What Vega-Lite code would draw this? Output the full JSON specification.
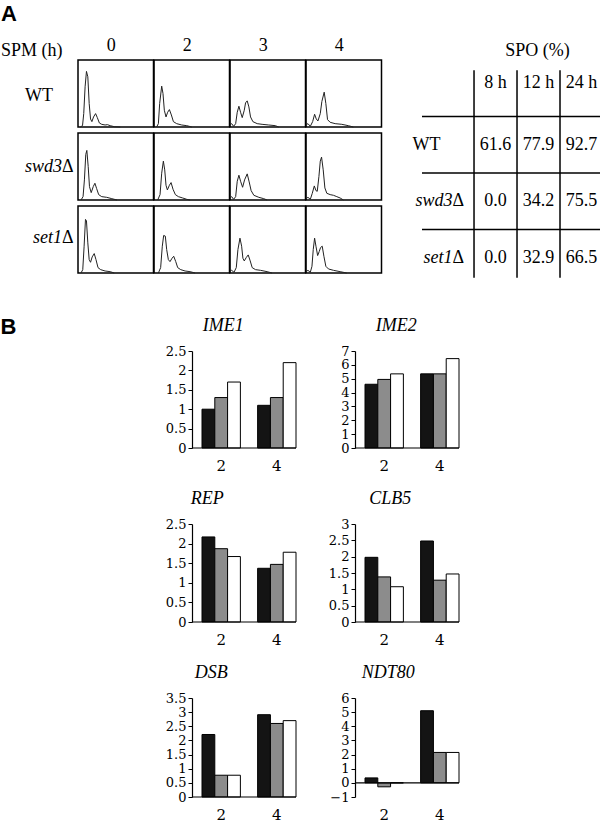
{
  "$schema": "https://vega.github.io/schema/vega-lite/v6.json",
  "background": "#ffffff",
  "padding": {"left": 0, "top": 3, "right": 0, "bottom": 0},
  "config": {
    "view": {"stroke": null},
    "font": "Liberation Serif",
    "text": {"color": "#000", "font": "Liberation Serif", "fontSize": 18},
    "title": {"color": "#000", "fontWeight": "normal", "font": "Liberation Serif", "fontSize": 18},
    "axisY": {"domainColor": "#000", "domainWidth": 1.2, "tickColor": "#000", "tickSize": 4, "labelFont": "DejaVu Serif", "labelFontSize": 13, "labelColor": "#000", "grid": false, "labelPadding": 2, "labelOverlap": false, "labelFlush": false, "minExtent": 34, "maxExtent": 34},
    "axisX": {"domain": false, "ticks": false, "labelFont": "DejaVu Serif", "labelFontSize": 15, "labelColor": "#000", "labelAngle": 0, "labelPadding": 10, "grid": false}
  },
  "datasets": {
    "rowlabels": [
      {"strain": "WT", "plain": "WT", "gene": "", "suffix": ""},
      {"strain": "swd3", "plain": "", "gene": "swd3", "suffix": "Δ"},
      {"strain": "set1", "plain": "", "gene": "set1", "suffix": "Δ"}
    ],
    "spo": [
      {"strain": "WT", "col": "8 h", "v": 61.6}, {"strain": "WT", "col": "12 h", "v": 77.9}, {"strain": "WT", "col": "24 h", "v": 92.7},
      {"strain": "swd3", "col": "8 h", "v": 0.0}, {"strain": "swd3", "col": "12 h", "v": 34.2}, {"strain": "swd3", "col": "24 h", "v": 75.5},
      {"strain": "set1", "col": "8 h", "v": 0.0}, {"strain": "set1", "col": "12 h", "v": 32.9}, {"strain": "set1", "col": "24 h", "v": 66.5}
    ],
    "bars": [
      {"gene": "IME1", "time": "2", "strain": "WT", "value": 1.0}, {"gene": "IME1", "time": "2", "strain": "swd3", "value": 1.3}, {"gene": "IME1", "time": "2", "strain": "set1", "value": 1.7},
      {"gene": "IME1", "time": "4", "strain": "WT", "value": 1.1}, {"gene": "IME1", "time": "4", "strain": "swd3", "value": 1.3}, {"gene": "IME1", "time": "4", "strain": "set1", "value": 2.2},
      {"gene": "IME2", "time": "2", "strain": "WT", "value": 4.6}, {"gene": "IME2", "time": "2", "strain": "swd3", "value": 4.95}, {"gene": "IME2", "time": "2", "strain": "set1", "value": 5.35},
      {"gene": "IME2", "time": "4", "strain": "WT", "value": 5.35}, {"gene": "IME2", "time": "4", "strain": "swd3", "value": 5.35}, {"gene": "IME2", "time": "4", "strain": "set1", "value": 6.45},
      {"gene": "REP", "time": "2", "strain": "WT", "value": 2.17}, {"gene": "REP", "time": "2", "strain": "swd3", "value": 1.87}, {"gene": "REP", "time": "2", "strain": "set1", "value": 1.67},
      {"gene": "REP", "time": "4", "strain": "WT", "value": 1.37}, {"gene": "REP", "time": "4", "strain": "swd3", "value": 1.47}, {"gene": "REP", "time": "4", "strain": "set1", "value": 1.78},
      {"gene": "CLB5", "time": "2", "strain": "WT", "value": 1.98}, {"gene": "CLB5", "time": "2", "strain": "swd3", "value": 1.38}, {"gene": "CLB5", "time": "2", "strain": "set1", "value": 1.08},
      {"gene": "CLB5", "time": "4", "strain": "WT", "value": 2.48}, {"gene": "CLB5", "time": "4", "strain": "swd3", "value": 1.28}, {"gene": "CLB5", "time": "4", "strain": "set1", "value": 1.47},
      {"gene": "DSB", "time": "2", "strain": "WT", "value": 2.21}, {"gene": "DSB", "time": "2", "strain": "swd3", "value": 0.77}, {"gene": "DSB", "time": "2", "strain": "set1", "value": 0.77},
      {"gene": "DSB", "time": "4", "strain": "WT", "value": 2.91}, {"gene": "DSB", "time": "4", "strain": "swd3", "value": 2.6}, {"gene": "DSB", "time": "4", "strain": "set1", "value": 2.7},
      {"gene": "NDT80", "time": "2", "strain": "WT", "value": 0.35}, {"gene": "NDT80", "time": "2", "strain": "swd3", "value": -0.28}, {"gene": "NDT80", "time": "2", "strain": "set1", "value": 0},
      {"gene": "NDT80", "time": "4", "strain": "WT", "value": 5.1}, {"gene": "NDT80", "time": "4", "strain": "swd3", "value": 2.15}, {"gene": "NDT80", "time": "4", "strain": "set1", "value": 2.15}
    ],
    "hist": [
      {"strain": "WT", "time": "0", "dna": 3, "n": 0}, {"strain": "WT", "time": "0", "dna": 6, "n": 2}, {"strain": "WT", "time": "0", "dna": 7.6, "n": 20}, {"strain": "WT", "time": "0", "dna": 9.4, "n": 60}, {"strain": "WT", "time": "0", "dna": 11.2, "n": 83}, {"strain": "WT", "time": "0", "dna": 13, "n": 75}, {"strain": "WT", "time": "0", "dna": 14.8, "n": 35}, {"strain": "WT", "time": "0", "dna": 16.6, "n": 12}, {"strain": "WT", "time": "0", "dna": 18.4, "n": 8}, {"strain": "WT", "time": "0", "dna": 20.6, "n": 15}, {"strain": "WT", "time": "0", "dna": 23.3, "n": 20}, {"strain": "WT", "time": "0", "dna": 25.6, "n": 14}, {"strain": "WT", "time": "0", "dna": 28.3, "n": 6}, {"strain": "WT", "time": "0", "dna": 31.4, "n": 4}, {"strain": "WT", "time": "0", "dna": 35.9, "n": 3}, {"strain": "WT", "time": "0", "dna": 39, "n": 3.5}, {"strain": "WT", "time": "0", "dna": 42.6, "n": 2}, {"strain": "WT", "time": "0", "dna": 48, "n": 0.5}, {"strain": "WT", "time": "0", "dna": 56, "n": 0},
      {"strain": "WT", "time": "2", "dna": 3.5, "n": 0}, {"strain": "WT", "time": "2", "dna": 5.8, "n": 5}, {"strain": "WT", "time": "2", "dna": 7.5, "n": 35}, {"strain": "WT", "time": "2", "dna": 10.2, "n": 61}, {"strain": "WT", "time": "2", "dna": 11.9, "n": 50}, {"strain": "WT", "time": "2", "dna": 13.7, "n": 25}, {"strain": "WT", "time": "2", "dna": 15.9, "n": 15}, {"strain": "WT", "time": "2", "dna": 18.1, "n": 22}, {"strain": "WT", "time": "2", "dna": 20.4, "n": 26}, {"strain": "WT", "time": "2", "dna": 23, "n": 18}, {"strain": "WT", "time": "2", "dna": 25.7, "n": 8}, {"strain": "WT", "time": "2", "dna": 30, "n": 5}, {"strain": "WT", "time": "2", "dna": 36.7, "n": 3}, {"strain": "WT", "time": "2", "dna": 43.4, "n": 2}, {"strain": "WT", "time": "2", "dna": 50, "n": 0},
      {"strain": "WT", "time": "3", "dna": 0, "n": 3}, {"strain": "WT", "time": "3", "dna": 2.2, "n": 5}, {"strain": "WT", "time": "3", "dna": 4.8, "n": 1}, {"strain": "WT", "time": "3", "dna": 7.5, "n": 5}, {"strain": "WT", "time": "3", "dna": 9.6, "n": 22}, {"strain": "WT", "time": "3", "dna": 11.8, "n": 31}, {"strain": "WT", "time": "3", "dna": 14, "n": 22}, {"strain": "WT", "time": "3", "dna": 16.2, "n": 14}, {"strain": "WT", "time": "3", "dna": 18.9, "n": 25}, {"strain": "WT", "time": "3", "dna": 20.6, "n": 36}, {"strain": "WT", "time": "3", "dna": 22.8, "n": 39}, {"strain": "WT", "time": "3", "dna": 25, "n": 30}, {"strain": "WT", "time": "3", "dna": 27.2, "n": 15}, {"strain": "WT", "time": "3", "dna": 30.3, "n": 8}, {"strain": "WT", "time": "3", "dna": 36, "n": 5}, {"strain": "WT", "time": "3", "dna": 42.5, "n": 4}, {"strain": "WT", "time": "3", "dna": 51.3, "n": 3}, {"strain": "WT", "time": "3", "dna": 60, "n": 2}, {"strain": "WT", "time": "3", "dna": 64.5, "n": 0},
      {"strain": "WT", "time": "4", "dna": 0, "n": 3}, {"strain": "WT", "time": "4", "dna": 2.6, "n": 5}, {"strain": "WT", "time": "4", "dna": 5.7, "n": 1}, {"strain": "WT", "time": "4", "dna": 8.8, "n": 8}, {"strain": "WT", "time": "4", "dna": 11.4, "n": 19}, {"strain": "WT", "time": "4", "dna": 13.6, "n": 12}, {"strain": "WT", "time": "4", "dna": 15.8, "n": 9}, {"strain": "WT", "time": "4", "dna": 18.9, "n": 20}, {"strain": "WT", "time": "4", "dna": 21, "n": 38}, {"strain": "WT", "time": "4", "dna": 24.1, "n": 52}, {"strain": "WT", "time": "4", "dna": 26.3, "n": 35}, {"strain": "WT", "time": "4", "dna": 28.5, "n": 11}, {"strain": "WT", "time": "4", "dna": 32, "n": 7}, {"strain": "WT", "time": "4", "dna": 38.6, "n": 5}, {"strain": "WT", "time": "4", "dna": 47.4, "n": 4}, {"strain": "WT", "time": "4", "dna": 56, "n": 2}, {"strain": "WT", "time": "4", "dna": 62.7, "n": 0},
      {"strain": "swd3", "time": "0", "dna": 4, "n": 0}, {"strain": "swd3", "time": "0", "dna": 6.7, "n": 5}, {"strain": "swd3", "time": "0", "dna": 8.5, "n": 30}, {"strain": "swd3", "time": "0", "dna": 10.3, "n": 68}, {"strain": "swd3", "time": "0", "dna": 11.7, "n": 74}, {"strain": "swd3", "time": "0", "dna": 13.5, "n": 50}, {"strain": "swd3", "time": "0", "dna": 15.2, "n": 20}, {"strain": "swd3", "time": "0", "dna": 17.5, "n": 11}, {"strain": "swd3", "time": "0", "dna": 20.2, "n": 20}, {"strain": "swd3", "time": "0", "dna": 22.4, "n": 25}, {"strain": "swd3", "time": "0", "dna": 24.7, "n": 17}, {"strain": "swd3", "time": "0", "dna": 27.4, "n": 8}, {"strain": "swd3", "time": "0", "dna": 31.4, "n": 5}, {"strain": "swd3", "time": "0", "dna": 38, "n": 4}, {"strain": "swd3", "time": "0", "dna": 44.8, "n": 2}, {"strain": "swd3", "time": "0", "dna": 51.6, "n": 0},
      {"strain": "swd3", "time": "2", "dna": 4.9, "n": 0}, {"strain": "swd3", "time": "2", "dna": 8, "n": 8}, {"strain": "swd3", "time": "2", "dna": 10.2, "n": 40}, {"strain": "swd3", "time": "2", "dna": 12.4, "n": 58}, {"strain": "swd3", "time": "2", "dna": 14.2, "n": 45}, {"strain": "swd3", "time": "2", "dna": 15.9, "n": 22}, {"strain": "swd3", "time": "2", "dna": 17.7, "n": 15}, {"strain": "swd3", "time": "2", "dna": 20.4, "n": 22}, {"strain": "swd3", "time": "2", "dna": 22.6, "n": 26}, {"strain": "swd3", "time": "2", "dna": 25.2, "n": 16}, {"strain": "swd3", "time": "2", "dna": 28.3, "n": 8}, {"strain": "swd3", "time": "2", "dna": 32.3, "n": 5}, {"strain": "swd3", "time": "2", "dna": 38, "n": 3}, {"strain": "swd3", "time": "2", "dna": 43.4, "n": 1}, {"strain": "swd3", "time": "2", "dna": 47.8, "n": 0},
      {"strain": "swd3", "time": "3", "dna": 0, "n": 3}, {"strain": "swd3", "time": "3", "dna": 2.2, "n": 5}, {"strain": "swd3", "time": "3", "dna": 4.8, "n": 1}, {"strain": "swd3", "time": "3", "dna": 7.5, "n": 5}, {"strain": "swd3", "time": "3", "dna": 9.6, "n": 28}, {"strain": "swd3", "time": "3", "dna": 11.8, "n": 37}, {"strain": "swd3", "time": "3", "dna": 14, "n": 28}, {"strain": "swd3", "time": "3", "dna": 16.7, "n": 19}, {"strain": "swd3", "time": "3", "dna": 19.3, "n": 30}, {"strain": "swd3", "time": "3", "dna": 22.8, "n": 39}, {"strain": "swd3", "time": "3", "dna": 25.4, "n": 27}, {"strain": "swd3", "time": "3", "dna": 28, "n": 14}, {"strain": "swd3", "time": "3", "dna": 31.6, "n": 7}, {"strain": "swd3", "time": "3", "dna": 38.2, "n": 4}, {"strain": "swd3", "time": "3", "dna": 44.7, "n": 2}, {"strain": "swd3", "time": "3", "dna": 49.1, "n": 0},
      {"strain": "swd3", "time": "4", "dna": 0, "n": 2}, {"strain": "swd3", "time": "4", "dna": 2.6, "n": 4}, {"strain": "swd3", "time": "4", "dna": 5.7, "n": 1}, {"strain": "swd3", "time": "4", "dna": 8.3, "n": 10}, {"strain": "swd3", "time": "4", "dna": 11, "n": 21}, {"strain": "swd3", "time": "4", "dna": 13.2, "n": 14}, {"strain": "swd3", "time": "4", "dna": 14.9, "n": 13}, {"strain": "swd3", "time": "4", "dna": 17.1, "n": 35}, {"strain": "swd3", "time": "4", "dna": 18.9, "n": 58}, {"strain": "swd3", "time": "4", "dna": 20.6, "n": 64}, {"strain": "swd3", "time": "4", "dna": 22.8, "n": 45}, {"strain": "swd3", "time": "4", "dna": 25, "n": 18}, {"strain": "swd3", "time": "4", "dna": 27.6, "n": 10}, {"strain": "swd3", "time": "4", "dna": 32, "n": 8}, {"strain": "swd3", "time": "4", "dna": 36.4, "n": 7}, {"strain": "swd3", "time": "4", "dna": 40.8, "n": 5}, {"strain": "swd3", "time": "4", "dna": 45.2, "n": 3}, {"strain": "swd3", "time": "4", "dna": 49.6, "n": 0},
      {"strain": "set1", "time": "0", "dna": 4, "n": 0}, {"strain": "set1", "time": "0", "dna": 6.3, "n": 5}, {"strain": "set1", "time": "0", "dna": 8.1, "n": 40}, {"strain": "set1", "time": "0", "dna": 9.9, "n": 80}, {"strain": "set1", "time": "0", "dna": 11.2, "n": 78}, {"strain": "set1", "time": "0", "dna": 13, "n": 45}, {"strain": "set1", "time": "0", "dna": 14.8, "n": 20}, {"strain": "set1", "time": "0", "dna": 16.6, "n": 16}, {"strain": "set1", "time": "0", "dna": 18.8, "n": 24}, {"strain": "set1", "time": "0", "dna": 21.5, "n": 29}, {"strain": "set1", "time": "0", "dna": 23.8, "n": 20}, {"strain": "set1", "time": "0", "dna": 26.5, "n": 8}, {"strain": "set1", "time": "0", "dna": 30, "n": 5}, {"strain": "set1", "time": "0", "dna": 35.9, "n": 3}, {"strain": "set1", "time": "0", "dna": 42.6, "n": 2}, {"strain": "set1", "time": "0", "dna": 48, "n": 0},
      {"strain": "set1", "time": "2", "dna": 5.8, "n": 0}, {"strain": "set1", "time": "2", "dna": 8.8, "n": 8}, {"strain": "set1", "time": "2", "dna": 11, "n": 40}, {"strain": "set1", "time": "2", "dna": 12.8, "n": 56}, {"strain": "set1", "time": "2", "dna": 15, "n": 55}, {"strain": "set1", "time": "2", "dna": 16.8, "n": 35}, {"strain": "set1", "time": "2", "dna": 19, "n": 20}, {"strain": "set1", "time": "2", "dna": 21.2, "n": 17}, {"strain": "set1", "time": "2", "dna": 23.9, "n": 22}, {"strain": "set1", "time": "2", "dna": 26.1, "n": 25}, {"strain": "set1", "time": "2", "dna": 28.8, "n": 17}, {"strain": "set1", "time": "2", "dna": 31.4, "n": 8}, {"strain": "set1", "time": "2", "dna": 35.4, "n": 5}, {"strain": "set1", "time": "2", "dna": 41.2, "n": 3}, {"strain": "set1", "time": "2", "dna": 47.8, "n": 2}, {"strain": "set1", "time": "2", "dna": 54.4, "n": 0},
      {"strain": "set1", "time": "3", "dna": 0, "n": 3}, {"strain": "set1", "time": "3", "dna": 2.2, "n": 4}, {"strain": "set1", "time": "3", "dna": 5.3, "n": 1}, {"strain": "set1", "time": "3", "dna": 8.3, "n": 8}, {"strain": "set1", "time": "3", "dna": 10.5, "n": 35}, {"strain": "set1", "time": "3", "dna": 13.2, "n": 52}, {"strain": "set1", "time": "3", "dna": 15.4, "n": 40}, {"strain": "set1", "time": "3", "dna": 17.1, "n": 22}, {"strain": "set1", "time": "3", "dna": 18.9, "n": 18}, {"strain": "set1", "time": "3", "dna": 21.5, "n": 23}, {"strain": "set1", "time": "3", "dna": 24.1, "n": 27}, {"strain": "set1", "time": "3", "dna": 26.8, "n": 18}, {"strain": "set1", "time": "3", "dna": 29.4, "n": 8}, {"strain": "set1", "time": "3", "dna": 33.8, "n": 5}, {"strain": "set1", "time": "3", "dna": 40.4, "n": 4}, {"strain": "set1", "time": "3", "dna": 49.1, "n": 2}, {"strain": "set1", "time": "3", "dna": 55.7, "n": 0},
      {"strain": "set1", "time": "4", "dna": 0, "n": 2}, {"strain": "set1", "time": "4", "dna": 2.6, "n": 4}, {"strain": "set1", "time": "4", "dna": 5.7, "n": 1}, {"strain": "set1", "time": "4", "dna": 7.9, "n": 10}, {"strain": "set1", "time": "4", "dna": 9.6, "n": 35}, {"strain": "set1", "time": "4", "dna": 11.4, "n": 52}, {"strain": "set1", "time": "4", "dna": 13.2, "n": 40}, {"strain": "set1", "time": "4", "dna": 15.4, "n": 26}, {"strain": "set1", "time": "4", "dna": 17.5, "n": 32}, {"strain": "set1", "time": "4", "dna": 19.3, "n": 38}, {"strain": "set1", "time": "4", "dna": 21.5, "n": 40}, {"strain": "set1", "time": "4", "dna": 23.7, "n": 25}, {"strain": "set1", "time": "4", "dna": 26.3, "n": 10}, {"strain": "set1", "time": "4", "dna": 29.8, "n": 6}, {"strain": "set1", "time": "4", "dna": 36.4, "n": 4}, {"strain": "set1", "time": "4", "dna": 45.2, "n": 2}, {"strain": "set1", "time": "4", "dna": 53.9, "n": 0}
    ]
  },
  "vconcat": [
    {
      "title": {"text": "A", "anchor": "start", "font": "Liberation Sans", "fontSize": 22, "fontWeight": "bold", "offset": 11},
      "spacing": 29,
      "resolve": {"scale": {"x": "independent", "y": "independent"}},
      "hconcat": [
        {
          "spacing": 0,
          "resolve": {"scale": {"x": "independent", "y": "independent"}},
          "hconcat": [
            {
              "width": 76,
              "height": 213,
              "title": {"text": "SPM (h)", "anchor": "start", "fontSize": 18, "offset": 0},
              "data": {"name": "rowlabels"},
              "encoding": {"y": {"field": "strain", "type": "nominal", "scale": {"domain": ["WT", "swd3", "set1"], "paddingInner": 0.082, "paddingOuter": 0}, "axis": null}},
              "layer": [
                {"mark": {"type": "text", "fontSize": 18}, "encoding": {"text": {"field": "plain"}}},
                {"mark": {"type": "text", "fontSize": 18, "fontStyle": "italic", "align": "right", "dx": 23}, "encoding": {"text": {"field": "gene"}}},
                {"mark": {"type": "text", "fontSize": 18, "align": "left", "dx": 23}, "encoding": {"text": {"field": "suffix"}}}
              ]
            },
            {
              "data": {"name": "hist"},
              "bounds": "flush",
              "facet": {
                "row": {"field": "strain", "type": "nominal", "sort": ["WT", "swd3", "set1"], "header": null},
                "column": {"field": "time", "type": "nominal", "sort": ["0", "2", "3", "4"], "header": {"title": null, "labelFont": "Liberation Serif", "labelFontSize": 18, "labelColor": "#000", "labelPadding": 5, "labelAlign": "right"}}
              },
              "spacing": {"row": 6, "column": 0},
              "spec": {
                "width": 75.5,
                "height": 67,
                "view": {"stroke": "#000", "strokeWidth": 1.5},
                "mark": {"type": "line", "color": "#222", "strokeWidth": 1},
                "encoding": {
                  "x": {"field": "dna", "type": "quantitative", "scale": {"domain": [0, 100]}, "axis": null},
                  "y": {"field": "n", "type": "quantitative", "scale": {"domain": [0, 100]}, "axis": null}
                }
              }
            }
          ]
        },
        {
          "width": 181,
          "height": 226,
          "title": {"text": "SPO (%)", "anchor": "middle", "dx": 25, "fontSize": 18, "offset": 0},
          "layer": [
            {
              "data": {"values": [{"col": "8 h"}, {"col": "12 h"}, {"col": "24 h"}]},
              "mark": {"type": "rule", "color": "#000", "strokeWidth": 1.5, "yOffset": -18, "y2Offset": 20},
              "encoding": {
                "x": {"field": "col", "type": "nominal", "bandPosition": 0, "scale": {"type": "band", "domain": ["lab", "8 h", "12 h", "24 h"], "paddingInner": 0, "paddingOuter": 0.105, "align": 1}, "axis": null},
                "y": {"datum": "hdr", "type": "nominal", "scale": {"type": "band", "domain": ["hdr", "WT", "swd3", "set1"], "paddingInner": 0, "paddingOuter": 0}, "axis": null},
                "y2": {"datum": "set1"}
              }
            },
            {
              "data": {"values": [{"strain": "WT"}, {"strain": "swd3"}, {"strain": "set1"}]},
              "mark": {"type": "rule", "color": "#000", "strokeWidth": 1.5},
              "encoding": {
                "y": {"field": "strain", "type": "nominal", "bandPosition": 0, "axis": null}
              }
            },
            {
              "data": {"values": [{"col": "8 h"}, {"col": "12 h"}, {"col": "24 h"}]},
              "mark": {"type": "text", "fontSize": 18, "dy": -5},
              "encoding": {
                "x": {"field": "col", "type": "nominal", "axis": null},
                "y": {"datum": "hdr", "type": "nominal", "axis": null},
                "text": {"field": "col"}
              }
            },
            {
              "data": {"name": "spo"},
              "mark": {"type": "text", "fontSize": 18},
              "encoding": {
                "x": {"field": "col", "type": "nominal", "axis": null},
                "y": {"field": "strain", "type": "nominal", "axis": null},
                "text": {"field": "v", "type": "quantitative", "format": ".1f"}
              }
            },
            {
              "data": {"name": "rowlabels"},
              "mark": {"type": "text", "fontSize": 18, "align": "left", "dx": -40},
              "encoding": {
                "x": {"datum": "lab", "type": "nominal", "axis": null},
                "y": {"field": "strain", "type": "nominal", "axis": null},
                "text": {"field": "plain"}
              }
            },
            {
              "data": {"name": "rowlabels"},
              "mark": {"type": "text", "fontSize": 18, "fontStyle": "italic", "align": "right", "dx": 0},
              "encoding": {
                "x": {"datum": "lab", "type": "nominal", "axis": null},
                "y": {"field": "strain", "type": "nominal", "axis": null},
                "text": {"field": "gene"}
              }
            },
            {
              "data": {"name": "rowlabels"},
              "mark": {"type": "text", "fontSize": 18, "align": "left", "dx": 0},
              "encoding": {
                "x": {"datum": "lab", "type": "nominal", "axis": null},
                "y": {"field": "strain", "type": "nominal", "axis": null},
                "text": {"field": "suffix"}
              }
            }
          ]
        }
      ]
    },
    {
      "title": {"text": "B", "anchor": "start", "font": "Liberation Sans", "fontSize": 22, "fontWeight": "bold", "offset": -22},
      "spacing": 0,
      "resolve": {"scale": {"x": "independent", "y": "independent"}},
      "hconcat": [
        {
          "width": 157,
          "height": 10,
          "data": {"values": [{}]},
          "mark": {"type": "rule", "opacity": 0},
          "encoding": {}
        },
        {
          "columns": 2,
          "bounds": "flush",
          "spacing": {"row": 76, "column": 59},
          "resolve": {"scale": {"x": "independent", "y": "independent"}},
          "concat": [
            {
              "width": 104, "height": 97,
              "title": {"text": "IME1", "fontStyle": "italic", "offset": 10, "frame": "bounds", "dx": -4},
              "data": {"name": "bars"},
              "layer": [
                {
                  "transform": [{"filter": "datum.gene === 'IME1'"}],
                  "mark": {"type": "bar", "stroke": "#000", "strokeWidth": 1},
                  "encoding": {
                    "x": {"field": "time", "type": "nominal", "sort": ["2", "4"], "scale": {"paddingInner": 0.31, "paddingOuter": 0.09, "align": 1}, "axis": {"title": null}},
                    "xOffset": {"field": "strain", "type": "nominal", "sort": ["WT", "swd3", "set1"], "scale": {"paddingInner": 0, "paddingOuter": 0}},
                    "y": {"field": "value", "type": "quantitative", "scale": {"domain": [0, 2.5], "nice": false, "zero": false}, "axis": {"title": null, "values": [0, 0.5, 1, 1.5, 2, 2.5], "format": "~g"}},
                    "fill": {"field": "strain", "type": "nominal", "scale": {"domain": ["WT", "swd3", "set1"], "range": ["#141414", "#8c8c8c", "#ffffff"]}, "legend": null}
                  }
                },
                {"data": {"values": [{}]}, "mark": {"type": "rule", "color": "#000", "strokeWidth": 1.2}, "encoding": {"y": {"datum": 0, "type": "quantitative", "scale": {"domain": [0, 2.5], "nice": false, "zero": false}, "axis": {"title": null, "values": [0, 0.5, 1, 1.5, 2, 2.5], "format": "~g"}}}}
              ]
            },
            {
              "width": 104, "height": 97,
              "title": {"text": "IME2", "fontStyle": "italic", "offset": 10, "frame": "bounds", "dx": 6},
              "data": {"name": "bars"},
              "layer": [
                {
                  "transform": [{"filter": "datum.gene === 'IME2'"}],
                  "mark": {"type": "bar", "stroke": "#000", "strokeWidth": 1},
                  "encoding": {
                    "x": {"field": "time", "type": "nominal", "sort": ["2", "4"], "scale": {"paddingInner": 0.31, "paddingOuter": 0.09, "align": 1}, "axis": {"title": null}},
                    "xOffset": {"field": "strain", "type": "nominal", "sort": ["WT", "swd3", "set1"], "scale": {"paddingInner": 0, "paddingOuter": 0}},
                    "y": {"field": "value", "type": "quantitative", "scale": {"domain": [0, 7], "nice": false, "zero": false}, "axis": {"title": null, "values": [0, 1, 2, 3, 4, 5, 6, 7], "format": "~g"}},
                    "fill": {"field": "strain", "type": "nominal", "scale": {"domain": ["WT", "swd3", "set1"], "range": ["#141414", "#8c8c8c", "#ffffff"]}, "legend": null}
                  }
                },
                {"data": {"values": [{}]}, "mark": {"type": "rule", "color": "#000", "strokeWidth": 1.2}, "encoding": {"y": {"datum": 0, "type": "quantitative", "scale": {"domain": [0, 7], "nice": false, "zero": false}, "axis": {"title": null, "values": [0, 1, 2, 3, 4, 5, 6, 7], "format": "~g"}}}}
              ]
            },
            {
              "width": 104, "height": 98,
              "title": {"text": "REP", "fontStyle": "italic", "offset": 10, "frame": "bounds", "dx": -20},
              "data": {"name": "bars"},
              "layer": [
                {
                  "transform": [{"filter": "datum.gene === 'REP'"}],
                  "mark": {"type": "bar", "stroke": "#000", "strokeWidth": 1},
                  "encoding": {
                    "x": {"field": "time", "type": "nominal", "sort": ["2", "4"], "scale": {"paddingInner": 0.31, "paddingOuter": 0.09, "align": 1}, "axis": {"title": null}},
                    "xOffset": {"field": "strain", "type": "nominal", "sort": ["WT", "swd3", "set1"], "scale": {"paddingInner": 0, "paddingOuter": 0}},
                    "y": {"field": "value", "type": "quantitative", "scale": {"domain": [0, 2.5], "nice": false, "zero": false}, "axis": {"title": null, "values": [0, 0.5, 1, 1.5, 2, 2.5], "format": "~g"}},
                    "fill": {"field": "strain", "type": "nominal", "scale": {"domain": ["WT", "swd3", "set1"], "range": ["#141414", "#8c8c8c", "#ffffff"]}, "legend": null}
                  }
                },
                {"data": {"values": [{}]}, "mark": {"type": "rule", "color": "#000", "strokeWidth": 1.2}, "encoding": {"y": {"datum": 0, "type": "quantitative", "scale": {"domain": [0, 2.5], "nice": false, "zero": false}, "axis": {"title": null, "values": [0, 0.5, 1, 1.5, 2, 2.5], "format": "~g"}}}}
              ]
            },
            {
              "width": 104, "height": 98,
              "title": {"text": "CLB5", "fontStyle": "italic", "offset": 10, "frame": "bounds", "dx": 0},
              "data": {"name": "bars"},
              "layer": [
                {
                  "transform": [{"filter": "datum.gene === 'CLB5'"}],
                  "mark": {"type": "bar", "stroke": "#000", "strokeWidth": 1},
                  "encoding": {
                    "x": {"field": "time", "type": "nominal", "sort": ["2", "4"], "scale": {"paddingInner": 0.31, "paddingOuter": 0.09, "align": 1}, "axis": {"title": null}},
                    "xOffset": {"field": "strain", "type": "nominal", "sort": ["WT", "swd3", "set1"], "scale": {"paddingInner": 0, "paddingOuter": 0}},
                    "y": {"field": "value", "type": "quantitative", "scale": {"domain": [0, 3], "nice": false, "zero": false}, "axis": {"title": null, "values": [0, 0.5, 1, 1.5, 2, 2.5, 3], "format": "~g"}},
                    "fill": {"field": "strain", "type": "nominal", "scale": {"domain": ["WT", "swd3", "set1"], "range": ["#141414", "#8c8c8c", "#ffffff"]}, "legend": null}
                  }
                },
                {"data": {"values": [{}]}, "mark": {"type": "rule", "color": "#000", "strokeWidth": 1.2}, "encoding": {"y": {"datum": 0, "type": "quantitative", "scale": {"domain": [0, 3], "nice": false, "zero": false}, "axis": {"title": null, "values": [0, 0.5, 1, 1.5, 2, 2.5, 3], "format": "~g"}}}}
              ]
            },
            {
              "width": 104, "height": 99,
              "title": {"text": "DSB", "fontStyle": "italic", "offset": 10, "frame": "bounds", "dx": -16},
              "data": {"name": "bars"},
              "layer": [
                {
                  "transform": [{"filter": "datum.gene === 'DSB'"}],
                  "mark": {"type": "bar", "stroke": "#000", "strokeWidth": 1},
                  "encoding": {
                    "x": {"field": "time", "type": "nominal", "sort": ["2", "4"], "scale": {"paddingInner": 0.31, "paddingOuter": 0.09, "align": 1}, "axis": {"title": null}},
                    "xOffset": {"field": "strain", "type": "nominal", "sort": ["WT", "swd3", "set1"], "scale": {"paddingInner": 0, "paddingOuter": 0}},
                    "y": {"field": "value", "type": "quantitative", "scale": {"domain": [0, 3.5], "nice": false, "zero": false}, "axis": {"title": null, "values": [0, 0.5, 1, 1.5, 2, 2.5, 3, 3.5], "format": "~g"}},
                    "fill": {"field": "strain", "type": "nominal", "scale": {"domain": ["WT", "swd3", "set1"], "range": ["#141414", "#8c8c8c", "#ffffff"]}, "legend": null}
                  }
                },
                {"data": {"values": [{}]}, "mark": {"type": "rule", "color": "#000", "strokeWidth": 1.2}, "encoding": {"y": {"datum": 0, "type": "quantitative", "scale": {"domain": [0, 3.5], "nice": false, "zero": false}, "axis": {"title": null, "values": [0, 0.5, 1, 1.5, 2, 2.5, 3, 3.5], "format": "~g"}}}}
              ]
            },
            {
              "width": 104, "height": 99,
              "title": {"text": "NDT80", "fontStyle": "italic", "offset": 10, "frame": "bounds", "dx": -2},
              "data": {"name": "bars"},
              "layer": [
                {
                  "transform": [{"filter": "datum.gene === 'NDT80'"}],
                  "mark": {"type": "bar", "stroke": "#000", "strokeWidth": 1},
                  "encoding": {
                    "x": {"field": "time", "type": "nominal", "sort": ["2", "4"], "scale": {"paddingInner": 0.31, "paddingOuter": 0.09, "align": 1}, "axis": {"title": null}},
                    "xOffset": {"field": "strain", "type": "nominal", "sort": ["WT", "swd3", "set1"], "scale": {"paddingInner": 0, "paddingOuter": 0}},
                    "y": {"field": "value", "type": "quantitative", "scale": {"domain": [-1, 6], "nice": false, "zero": false}, "axis": {"title": null, "values": [-1, 0, 1, 2, 3, 4, 5, 6], "format": "~g"}},
                    "fill": {"field": "strain", "type": "nominal", "scale": {"domain": ["WT", "swd3", "set1"], "range": ["#141414", "#8c8c8c", "#ffffff"]}, "legend": null}
                  }
                },
                {"data": {"values": [{}]}, "mark": {"type": "rule", "color": "#000", "strokeWidth": 1.2}, "encoding": {"y": {"datum": 0, "type": "quantitative", "scale": {"domain": [-1, 6], "nice": false, "zero": false}, "axis": {"title": null, "values": [-1, 0, 1, 2, 3, 4, 5, 6], "format": "~g"}}}}
              ]
            }
          ]
        }
      ]
    }
  ],
  "spacing": 30,
  "resolve": {"scale": {"x": "independent", "y": "independent"}}
}
